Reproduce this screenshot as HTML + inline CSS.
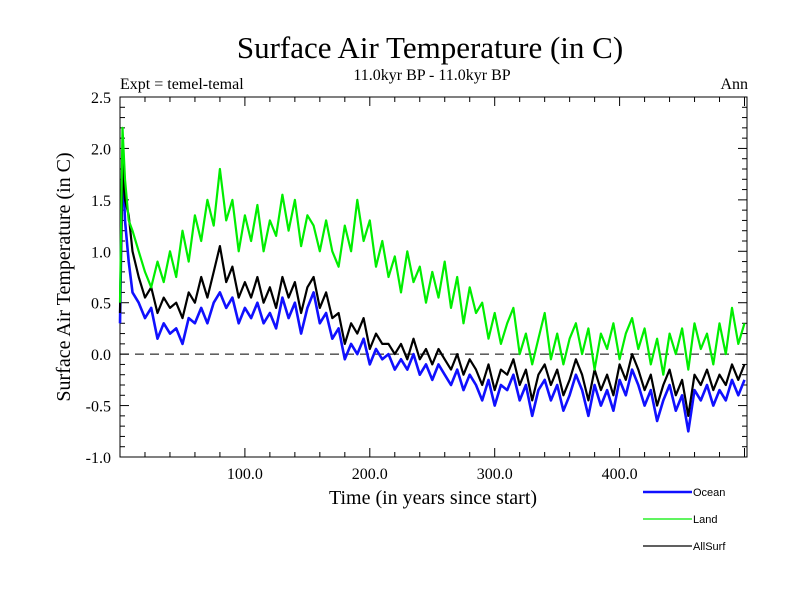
<!DOCTYPE html>
<html><head><meta charset="utf-8"><style>
body{margin:0;background:#fff}
svg{display:block}
text{font-family:"Liberation Serif",serif;fill:#000}
</style></head><body>
<svg id="chart" width="800" height="600" viewBox="0 0 800 600" xmlns="http://www.w3.org/2000/svg">
<text x="430" y="58" font-size="31" text-anchor="middle">Surface Air Temperature (in C)</text>
<text x="432" y="80" font-size="16" text-anchor="middle">11.0kyr BP - 11.0kyr BP</text>
<text x="120" y="89" font-size="16">Expt = temel-temal</text>
<text x="748" y="89" font-size="16" text-anchor="end">Ann</text>
<text transform="translate(70,277) rotate(-90)" font-size="20" text-anchor="middle">Surface Air Temperature (in C)</text>
<text x="433" y="504" font-size="20" text-anchor="middle">Time (in years since start)</text>
<g id="axes"></g>
<g id="series"></g>
<g id="legend"></g>
</svg>
<script>
const yearsEarly = [0, 2, 4, 7, 10];
const ocean = [0.3,1.9,1.3,0.9,0.6,
0.5,0.35,0.45,0.15,0.3,0.2,0.25,0.1,0.35,0.3,0.45,0.3,0.5,0.6,0.45,0.55,0.3,0.45,0.35,0.5,0.3,0.4,0.25,0.55,0.35,0.5,0.2,0.45,0.6,0.3,0.4,0.15,0.25,-0.05,0.1,0.0,0.15,-0.1,0.05,-0.05,0.0,-0.15,-0.05,-0.15,0.0,-0.2,-0.1,-0.25,-0.1,-0.2,-0.3,-0.15,-0.35,-0.2,-0.3,-0.45,-0.25,-0.5,-0.3,-0.35,-0.2,-0.45,-0.3,-0.6,-0.35,-0.25,-0.45,-0.3,-0.55,-0.4,-0.2,-0.35,-0.6,-0.3,-0.5,-0.35,-0.55,-0.25,-0.4,-0.15,-0.3,-0.5,-0.35,-0.65,-0.45,-0.3,-0.55,-0.4,-0.75,-0.35,-0.45,-0.3,-0.5,-0.35,-0.45,-0.25,-0.4,-0.25];
const land = [0.5,2.2,1.7,1.3,1.2,
1.0,0.8,0.65,0.9,0.7,1.0,0.75,1.2,0.9,1.35,1.1,1.5,1.25,1.8,1.3,1.5,1.0,1.35,1.1,1.45,1.0,1.3,1.15,1.55,1.2,1.5,1.05,1.35,1.25,1.0,1.3,1.0,0.85,1.25,1.0,1.5,1.1,1.3,0.85,1.1,0.75,0.95,0.6,1.0,0.7,0.85,0.5,0.8,0.55,0.9,0.45,0.75,0.3,0.65,0.4,0.5,0.15,0.4,0.1,0.3,0.45,0.0,0.2,-0.1,0.15,0.4,-0.05,0.2,-0.1,0.15,0.3,0.0,0.25,-0.15,0.2,0.05,0.3,-0.05,0.2,0.35,0.05,0.25,-0.1,0.15,-0.2,0.2,0.0,0.25,-0.15,0.3,0.05,0.2,-0.1,0.3,0.0,0.45,0.1,0.3];
const allSurf = [0.4,1.85,1.5,1.35,1.0,
0.75,0.55,0.65,0.4,0.55,0.45,0.5,0.35,0.6,0.5,0.75,0.55,0.8,1.05,0.7,0.85,0.55,0.7,0.55,0.75,0.5,0.65,0.45,0.75,0.55,0.7,0.4,0.65,0.75,0.45,0.6,0.35,0.4,0.1,0.3,0.2,0.35,0.05,0.2,0.1,0.1,0.0,0.1,-0.05,0.15,-0.05,0.05,-0.1,0.05,-0.05,-0.15,0.0,-0.2,-0.05,-0.15,-0.3,-0.1,-0.35,-0.15,-0.2,-0.05,-0.3,-0.15,-0.45,-0.2,-0.1,-0.3,-0.15,-0.4,-0.25,-0.05,-0.2,-0.45,-0.15,-0.35,-0.2,-0.4,-0.1,-0.25,0.0,-0.15,-0.35,-0.2,-0.5,-0.3,-0.15,-0.4,-0.25,-0.6,-0.2,-0.3,-0.15,-0.35,-0.2,-0.3,-0.1,-0.25,-0.1];
const xTickLabels = ["100.0","200.0","300.0","400.0"];
const yTickLabels = ["-1.0","-0.5","0.0","0.5","1.0","1.5","2.0","2.5"];
const seriesNames = ["Ocean","Land","AllSurf"];

const NS="http://www.w3.org/2000/svg";
const L=120,R=747,T=97,B=457,X0=0,X1=502,Y0=-1,Y1=2.5;
function sx(v){return L+(v-X0)/(X1-X0)*(R-L);}
function sy(v){return B-(v-Y0)/(Y1-Y0)*(B-T);}
function mk(tag,attrs,parent){const e=document.createElementNS(NS,tag);for(const k in attrs)e.setAttribute(k,attrs[k]);parent.appendChild(e);return e;}
const years=yearsEarly.slice();
for(let y=15;y<=500;y+=5)years.push(y);

const axes=document.getElementById('axes');
const frame=mk('rect',{x:L,y:T,width:R-L,height:B-T,fill:'none',stroke:'#000','stroke-width':1},axes);


for(let v=20;v<X1;v+=20){
  const major=v%100===0, len=major?9:5;
  const t1=mk('line',{x1:sx(v),x2:sx(v),y1:B,y2:B-len,stroke:'#000'},axes);
  
  
  const t2=mk('line',{x1:sx(v),x2:sx(v),y1:T,y2:T+len,stroke:'#000'},axes);
  
  
}
xTickLabels.forEach(s=>{
  const t=mk('text',{x:sx(parseFloat(s)),y:B+22,'font-size':16,'text-anchor':'middle'},axes);
  t.textContent=s;
  
  
});
for(let i=0;i<=35;i++){
  const v=Y0+i*0.1, major=i%5===0, len=major?9:5;
  const t1=mk('line',{x1:L,x2:L+len,y1:sy(v),y2:sy(v),stroke:'#000'},axes);
  
  
  const t2=mk('line',{x1:R,x2:R-len,y1:sy(v),y2:sy(v),stroke:'#000'},axes);
  
  
}
yTickLabels.forEach(s=>{
  const t=mk('text',{x:L-9,y:sy(parseFloat(s))+6,'font-size':16,'text-anchor':'end'},axes);
  t.textContent=s;
  
  
});
const zl=mk('line',{x1:L,x2:R,y1:sy(0),y2:sy(0),stroke:'#000','stroke-dasharray':'9,6','stroke-width':1},axes);



const ser=document.getElementById('series');
function drawLine(vals,color,w,name){
  const d=vals.map((v,i)=>(i?'L':'M')+sx(years[i]).toFixed(1)+','+sy(v).toFixed(1)).join('');
  const p=mk('path',{d:d,fill:'none',stroke:color,'stroke-width':w,'stroke-linejoin':'round'},ser);
  
  
}
drawLine(ocean,'#1010ff',2.6,'ocean-line');
drawLine(allSurf,'#000000',2.2,'allsurf-line');
drawLine(land,'#00ee00',2.2,'land-line');

const leg=document.getElementById('legend');
const legColors=['#1010ff','#00ee00','#000000'];
const legW=[2.5,1.2,1.2];
seriesNames.forEach((n,i)=>{
  const y=492+i*27;
  const g=mk('g',{},leg);
  
  
  mk('line',{x1:643,x2:692,y1:y,y2:y,stroke:legColors[i],'stroke-width':legW[i]},g);
  const t=mk('text',{x:693,y:y+4,'font-size':11,style:'font-family:"Liberation Sans",sans-serif'},g);
  t.textContent=n;
});
</script>
</body></html>
